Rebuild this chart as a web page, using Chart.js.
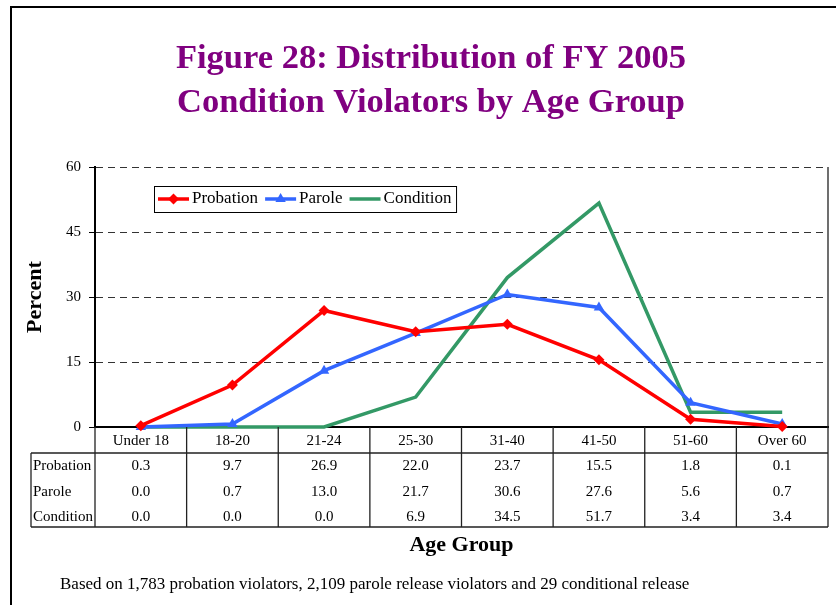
<!DOCTYPE html>
<html>
<head>
<meta charset="utf-8">
<script src="https://cdn.jsdelivr.net/npm/chart.js@4/dist/chart.umd.min.js"></script>
<style>
  html, body { margin: 0; padding: 0; background: #ffffff; overflow: hidden; }
  canvas { display: block; }
</style>
</head>
<body>
<canvas id="c" width="836" height="605"></canvas>
<script>
// ---- Data ----
const categories = ['Under 18', '18-20', '21-24', '25-30', '31-40', '41-50', '51-60', 'Over 60'];
const seriesNames = ['Probation', 'Parole', 'Condition'];
const probation = [0.3, 9.7, 26.9, 22.0, 23.7, 15.5, 1.8, 0.1];
const parole    = [0.0, 0.7, 13.0, 21.7, 30.6, 27.6, 5.6, 0.7];
const condition = [0.0, 0.0, 0.0, 6.9, 34.5, 51.7, 3.4, 3.4];
const yMin = 0, yMax = 60, yStep = 15;
const titleLines = ['Figure 28: Distribution of FY 2005', 'Condition Violators by Age Group'];
const yTitle = 'Percent';
const xTitle = 'Age Group';
const footnote = 'Based on 1,783 probation violators, 2,109 parole release violators and 29 conditional release';

const seriesValues = [probation, parole, condition];
const SERIF = "'Liberation Serif', 'Times New Roman', serif";
const TICK_LH = 1.7; // line height multiplier for table rows
const TICK_SIZE = 15;
const TICK_PAD = 1.25;

function drawMarker(ctx, style, x, y, r, color) {
  if (!style || style === 'none') return;
  ctx.save();
  ctx.fillStyle = color;
  ctx.beginPath();
  if (style === 'rectRot') {
    ctx.moveTo(x - r, y); ctx.lineTo(x, y - r); ctx.lineTo(x + r, y); ctx.lineTo(x, y + r);
  } else if (style === 'triangle') {
    let rad = 0;
    ctx.moveTo(x + Math.sin(rad) * r, y - Math.cos(rad) * r);
    rad += 2 * Math.PI / 3;
    ctx.lineTo(x + Math.sin(rad) * r, y - Math.cos(rad) * r);
    rad += 2 * Math.PI / 3;
    ctx.lineTo(x + Math.sin(rad) * r, y - Math.cos(rad) * r);
  }
  ctx.closePath();
  ctx.fill();
  ctx.restore();
}

const decor = {
  id: 'decor',
  afterLayout(chart) {
    const t = chart.titleBlock;
    if (t) { t.left = 26; t.right = 836; }
  },
  beforeDraw(chart) {
    const ctx = chart.ctx;
    ctx.save();
    ctx.fillStyle = '#ffffff';
    ctx.fillRect(0, 0, chart.width, chart.height);
    ctx.restore();
  },
  afterDraw(chart) {
    const ctx = chart.ctx;
    const ca = chart.chartArea;
    const n = categories.length;
    const cw = (ca.right - ca.left) / n;
    const hdrBottom = ca.bottom + 26;
    const tblBottom = ca.bottom + 100;
    const tblLeft = 31;
    ctx.save();
    // table lines
    ctx.strokeStyle = '#222';
    ctx.lineWidth = 1.3;
    ctx.beginPath();
    for (let k = 0; k <= n; k++) {
      const xx = ca.left + k * cw;
      ctx.moveTo(xx, k === n ? ca.top : ca.bottom);
      ctx.lineTo(xx, tblBottom);
    }
    ctx.moveTo(tblLeft, hdrBottom); ctx.lineTo(ca.right, hdrBottom);
    ctx.moveTo(tblLeft, tblBottom); ctx.lineTo(ca.right, tblBottom);
    ctx.moveTo(tblLeft, hdrBottom); ctx.lineTo(tblLeft, tblBottom);
    ctx.stroke();

    // row labels
    const lh = TICK_SIZE * TICK_LH;
    const firstY = ca.bottom + TICK_PAD + lh / 2;
    ctx.fillStyle = '#000';
    ctx.font = TICK_SIZE + 'px ' + SERIF;
    ctx.textAlign = 'left';
    ctx.textBaseline = 'middle';
    seriesNames.forEach((nm, i) => {
      ctx.fillText(nm, 33, firstY + (i + 1) * lh);
    });

    // outer frame
    ctx.strokeStyle = '#000';
    ctx.lineWidth = 2;
    ctx.beginPath();
    ctx.moveTo(11, chart.height);
    ctx.lineTo(11, 7);
    ctx.lineTo(chart.width, 7);
    ctx.stroke();

    // legend
    const ds = chart.data.datasets;
    ctx.font = '17px ' + SERIF;
    let lx = 158;
    const ly = 199;
    const items = [];
    ds.forEach(d => {
      const tw = ctx.measureText(d.label).width;
      items.push({ d, x: lx, tw });
      lx += 34 + tw + 7;
    });
    const boxRight = lx - 7 + 5;
    ctx.fillStyle = '#fff';
    ctx.fillRect(154.5, 186.5, boxRight - 154.5, 26);
    ctx.strokeStyle = '#000';
    ctx.lineWidth = 1;
    ctx.strokeRect(154.5, 186.5, boxRight - 154.5, 26);
    items.forEach(it => {
      const d = it.d;
      ctx.strokeStyle = d.borderColor;
      ctx.lineWidth = d.borderWidth;
      ctx.beginPath();
      ctx.moveTo(it.x, ly); ctx.lineTo(it.x + 31, ly);
      ctx.stroke();
      if (d.pointRadius > 0) drawMarker(ctx, d.pointStyle, it.x + 15.5, ly, d.pointRadius, d.borderColor);
      ctx.fillStyle = '#000';
      ctx.textAlign = 'left';
      ctx.textBaseline = 'middle';
      ctx.fillText(d.label, it.x + 34, ly);
    });

    // footnote
    ctx.font = '17px ' + SERIF;
    ctx.fillStyle = '#000';
    ctx.textAlign = 'left';
    ctx.textBaseline = 'middle';
    ctx.fillText(footnote, 60, 585);
    ctx.restore();
  }
};

const colors = ['#FF0000', '#3366FF', '#339966'];
const pointStyles = ['rectRot', 'triangle', 'circle'];
const pointRadii = [5.5, 6, 0];

new Chart(document.getElementById('c'), {
  type: 'line',
  data: {
    labels: categories,
    datasets: seriesNames.map((nm, i) => ({
      label: nm,
      data: seriesValues[i],
      borderColor: colors[i],
      backgroundColor: colors[i],
      borderWidth: 3.5,
      pointStyle: pointStyles[i],
      pointRadius: pointRadii[i],
      pointBorderWidth: 0,
      pointBackgroundColor: colors[i],
      tension: 0,
      clip: false
    }))
  },
  options: {
    responsive: false,
    devicePixelRatio: 1,
    animation: false,
    layout: { padding: { top: 0, left: 0, right: 8, bottom: 43 } },
    plugins: {
      legend: { display: false },
      tooltip: { enabled: false },
      title: {
        display: true,
        text: titleLines,
        color: '#800080',
        font: { family: SERIF, size: 34.5, weight: 'bold', lineHeight: 1.28 },
        padding: { top: 37, bottom: 41.8 }
      }
    },
    scales: {
      x: {
        type: 'category',
        offset: true,
        grid: { display: false, drawTicks: false },
        border: { display: true, color: '#000', width: 2 },
        ticks: {
          autoSkip: false,
          maxRotation: 0,
          minRotation: 0,
          padding: TICK_PAD,
          color: '#000',
          font: { family: SERIF, size: TICK_SIZE, lineHeight: TICK_LH },
          callback: (v, i) => [categories[i]].concat(seriesValues.map(s => s[i].toFixed(1)))
        },
        title: {
          display: true,
          text: xTitle,
          color: '#000',
          font: { family: SERIF, size: 22, weight: 'bold' },
          padding: { top: 0, bottom: 3 }
        },
        afterFit: (s) => { s.height = 135; }
      },
      y: {
        min: yMin,
        max: yMax,
        ticks: {
          stepSize: yStep,
          padding: 8,
          color: '#000',
          font: { family: SERIF, size: 15 }
        },
        grid: {
          color: '#333',
          lineWidth: 1,
          drawTicks: true,
          tickLength: 6,
          tickColor: '#000',
          tickWidth: 1,
          tickBorderDash: []
        },
        border: { display: true, color: '#000', width: 2, dash: [7, 5] },
        title: {
          display: true,
          text: yTitle,
          color: '#000',
          font: { family: SERIF, size: 22, weight: 'bold' },
          padding: { top: 22, bottom: 0 }
        },
        afterFit: (s) => { s.width = 95; }
      }
    }
  },
  plugins: [decor]
});
</script>
</body>
</html>
